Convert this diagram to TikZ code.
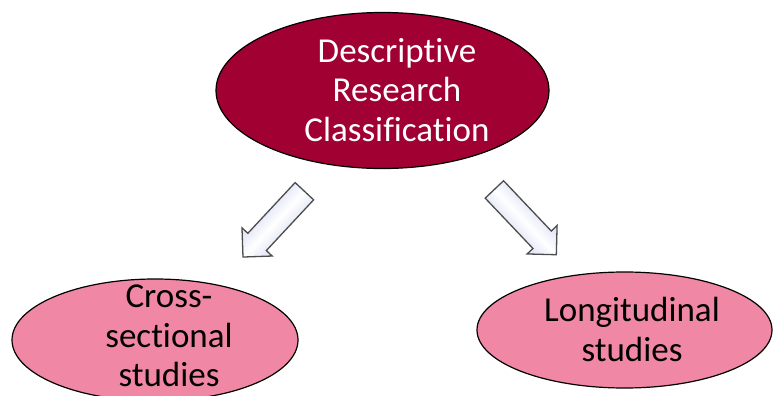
\documentclass[tikz,border=0pt]{standalone}
\usepackage{fontspec}
\setmainfont{Carlito}[Ligatures=NoCommon]
\usepackage{tikz}
\definecolor{crimson}{RGB}{160,0,50}
\definecolor{pinkfill}{RGB}{240,135,165}
\definecolor{lavender}{RGB}{190,198,236}
\usetikzlibrary{positioning, shapes, shapes.arrows}
\tikzstyle{topic} = [draw=black, line width=1.2pt, fill=crimson, ellipse, inner sep=0pt]
\tikzstyle{kind} = [draw=black, line width=1.2pt, fill=pinkfill, ellipse, inner sep=0pt]
\tikzstyle{words} = [align=center, font=\fontsize{35}{39.5}\selectfont, inner sep=0pt]
\tikzstyle{pointer} = [single arrow, draw=black!70, line width=1.3pt, top color=lavender, bottom color=lavender, middle color=white, minimum height=90pt, minimum width=40pt, single arrow head extend=8pt, inner sep=12pt]

\begin{document}
\begin{tikzpicture}[x=1pt, y=-1pt]
    \useasboundingbox (0,0) rectangle (774,396);

    % Place the ellipses
    \node [topic, minimum width=333pt, minimum height=156pt] (top) at (382.5,90.5) {};
    \node [kind, minimum width=286pt, minimum height=122pt] (cross) at (155,340) {};
    \node [kind, minimum width=295pt, minimum height=116pt] (longi) at (624.5,330) {};

    % Place the texts
    \node [words, text=white] (topText) at (397,90) {Descriptive\\Research\\Classification};
    \node [words] (crossText) at (169,336) {Cross-\\sectional\\studies};
    \node [words] (longiText) at (632,329.5) {Longitudinal\\studies};

    % Place the arrows
    \node [pointer, rotate=227, shading angle=47] (leftArrow) at (278,219.5) {};
    \node [pointer, rotate=313.5, shading angle=-46.5] (rightArrow) at (521,217.5) {};
\end{tikzpicture}
\end{document}
